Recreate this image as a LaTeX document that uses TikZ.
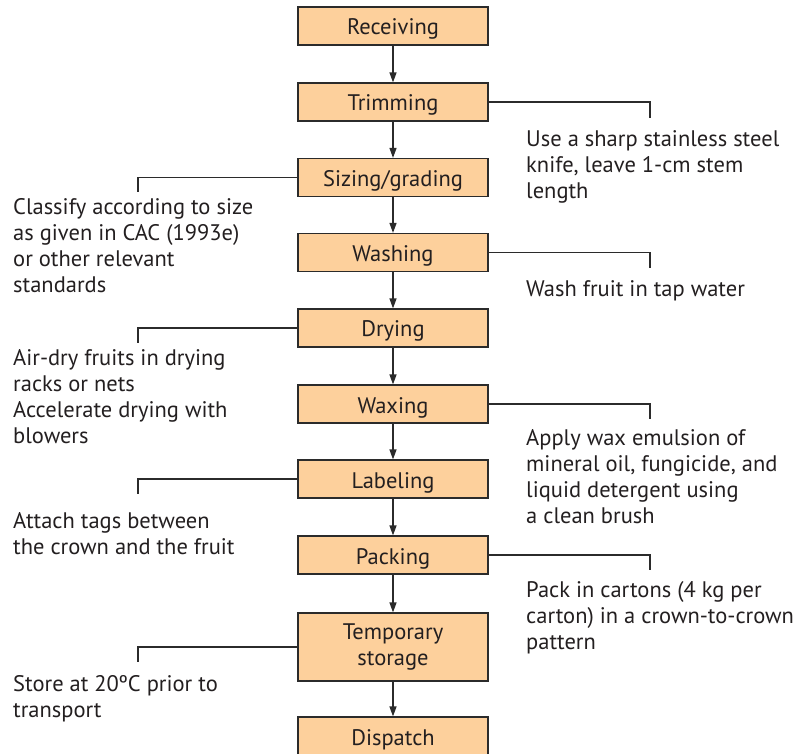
\documentclass[tikz,border=0pt]{standalone}
\usepackage{fontspec}
\setmainfont{PT Sans}
\usetikzlibrary{arrows.meta}
\definecolor{boxfill}{HTML}{FDD09C}
\definecolor{edge}{HTML}{2B2B2B}
\definecolor{textc}{HTML}{231F20}
\newcommand{\notelines}[1]{\begin{tabular}[t]{@{}l@{}}#1\end{tabular}}
\begin{document}
\begin{tikzpicture}[x=1pt,y=-1pt,
  txt/.style={font=\fontsize{22.5}{26}\selectfont, text=textc},
  stepbox/.style={txt, draw=edge, fill=boxfill, line width=1.2pt,
    minimum width=190pt, minimum height=38pt, inner sep=0pt, align=center,
    text height=18pt, text depth=0pt},
  flow/.style={draw=edge, line width=1.3pt, -{Triangle[length=10pt,width=7pt]}},
  lead/.style={draw=edge, line width=1.1pt},
  note/.style={txt, anchor=base west, inner sep=0pt}]
\useasboundingbox (0,0) rectangle (804,754);

% process steps
\node[stepbox] (rec) at (393,26) {Receiving};
\node[stepbox] (trim) at (393,102) {Trimming};
\node[stepbox] (size) at (393,177.5) {Sizing/grading};
\node[stepbox] (wash) at (393,252.5) {Washing};
\node[stepbox] (dry) at (393,328) {Drying};
\node[stepbox] (wax) at (393,404) {Waxing};
\node[stepbox] (lab) at (393,479) {Labeling};
\node[stepbox] (pack) at (393,555) {Packing};
\node[stepbox, minimum height=68pt, text height=36pt] (temp) at (393,647) {Temporary\\storage};
\node[stepbox] (disp) at (393,736) {Dispatch};

% flow arrows
\draw[flow] (rec) -- (trim);
\draw[flow] (trim) -- (size);
\draw[flow] (size) -- (wash);
\draw[flow] (wash) -- (dry);
\draw[flow] (dry) -- (wax);
\draw[flow] (wax) -- (lab);
\draw[flow] (lab) -- (pack);
\draw[flow] (pack) -- (temp);
\draw[flow] (temp) -- (disp);

% notes
\node[note] (ntrim) at (526,147) {\notelines{Use a sharp stainless steel\\knife, leave 1-cm stem\\length}};
\node[note] (nsize) at (13,215) {\notelines{Classify according to size\\as given in CAC (1993e)\\or other relevant\\standards}};
\node[note] (nwash) at (526,297) {\notelines{Wash fruit in tap water}};
\node[note] (ndry) at (13,366) {\notelines{Air-dry fruits in drying\\racks or nets\\Accelerate drying with\\blowers}};
\node[note] (nwax) at (526,445) {\notelines{Apply wax emulsion of\\mineral oil, fungicide, and\\liquid detergent using\\a clean brush}};
\node[note] (nlab) at (13,528) {\notelines{Attach tags between\\the crown and the fruit}};
\node[note] (npack) at (526,597) {\notelines{Pack in cartons (4 kg per\\carton) in a crown-to-crown\\pattern}};
\node[note] (ntemp) at (13,691) {\notelines{Store at 20ºC prior to\\transport}};

% leader lines
\coordinate (ctrim) at (650,118);
\coordinate (csize) at (138,192);
\coordinate (cwash) at (650,268);
\coordinate (cdry) at (138,343);
\coordinate (cwax) at (650,419);
\coordinate (clab) at (138,494);
\coordinate (cpack) at (650,570);
\coordinate (ctemp) at (138,662);
\draw[lead] (trim.east) -| (ctrim);
\draw[lead] (size.west) -| (csize);
\draw[lead] (wash.east) -| (cwash);
\draw[lead] (dry.west) -| (cdry);
\draw[lead] (wax.east) -| (cwax);
\draw[lead] (lab.west) -| (clab);
\draw[lead] (pack.east) -| (cpack);
\draw[lead] (temp.west) -| (ctemp);
\end{tikzpicture}
\end{document}
